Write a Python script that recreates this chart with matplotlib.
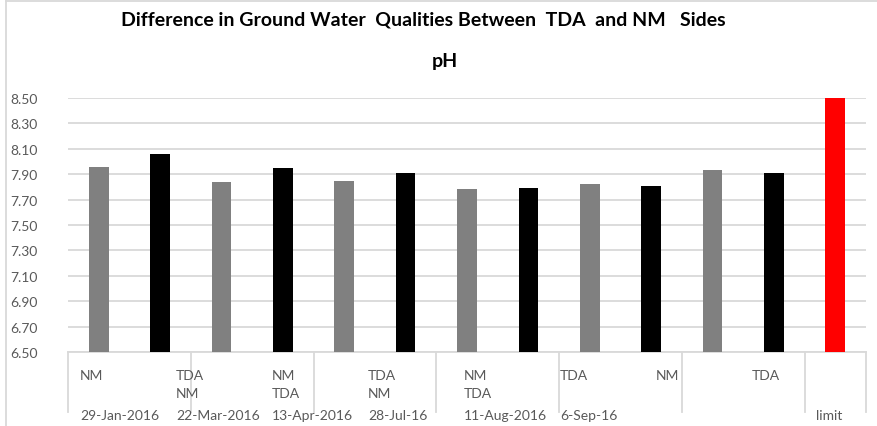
import numpy as np
import matplotlib.pyplot as plt
import matplotlib.transforms as mtransforms
from matplotlib.lines import Line2D

plt.rcParams['font.family'] = ['Lato', 'DejaVu Sans']

# bar values (pH), one per sampling side
ar_ph = [7.96, 8.06, 7.84, 7.95, 7.85, 7.91, 7.78, 7.79, 7.82, 7.81, 7.93, 7.91, 8.50]
ar_colors = ['#808080', '#000000'] * 6 + ['#ff0000']

# messy excel category labels, three rows
ls_row1 = ['NM', 'TDA', 'NM', 'TDA', 'NM', 'TDA', 'NM', 'TDA']
ls_row2 = ['', 'NM', 'TDA', 'NM', 'TDA', '', '', '']
ls_row3 = ['29-Jan-2016', '22-Mar-2016', '13-Apr-2016', '28-Jul-16',
           '11-Aug-2016', '6-Sep-16', '', '']
st_limit = 'limit'

ar_yticks = np.arange(6.5, 8.51, 0.2)

fig = plt.figure(figsize=(8.77, 4.27), dpi=100)
ax = fig.add_axes([68 / 877, 1 - 353 / 427, 798 / 877, 254 / 427])

it_n = len(ar_ph)
ar_x = np.arange(it_n)
ax.bar(ar_x, np.array(ar_ph) - 6.5, bottom=6.5, width=0.32, color=ar_colors, zorder=3)

ax.set_xlim(-0.5, it_n - 0.5)
ax.set_ylim(6.5, 8.5)
ax.set_yticks(ar_yticks)
ax.set_yticklabels(['%.2f' % v for v in ar_yticks])
ax.tick_params(axis='y', length=0, pad=22, labelsize=10, labelcolor='#595959')
ax.set_xticks([])
ax.grid(axis='y', color='#d9d9d9', linewidth=1.3, zorder=0)
for sp in ['top', 'right', 'left']:
    ax.spines[sp].set_visible(False)
ax.spines['bottom'].set_color('#d9d9d9')
ax.spines['bottom'].set_linewidth(1.3)

# group separators below the axis
trans = mtransforms.blended_transform_factory(ax.transData, ax.transAxes)
for fl_sep in list(np.arange(-0.5, it_n - 1, 2)) + [it_n - 0.5]:
    ax.add_line(Line2D([fl_sep, fl_sep], [0, -0.235], transform=trans,
                       color='#d9d9d9', linewidth=1.3, clip_on=False))

# label text boxes, evenly spaced like excel did it
fl_step = 96 / 798
for i in range(len(ls_row1)):
    fl_xa = (80 - 68) / 798 + i * fl_step
    for st_lab, fl_y in [(ls_row1[i], -0.09), (ls_row2[i], -0.16), (ls_row3[i], -0.25)]:
        if st_lab:
            ax.text(fl_xa, fl_y, st_lab, transform=ax.transAxes, fontsize=10,
                    color='#595959', ha='left', va='center')
ax.text(it_n - 1 - 0.1, -0.25, st_limit, transform=trans, fontsize=10,
        color='#595959', ha='center', va='center')

fig.text(423 / 877, 1 - 20 / 427, 'Difference in Ground Water  Qualities Between  TDA  and NM   Sides',
         ha='center', va='center', fontsize=14, fontweight='bold')
fig.text(445 / 877, 1 - 62 / 427, 'pH', ha='center', va='center', fontsize=14, fontweight='bold')

# chart frame
fig.add_artist(Line2D([6 / 877, 1], [1 - 2 / 427] * 2, transform=fig.transFigure,
                      color='#d9d9d9', linewidth=1.3))
fig.add_artist(Line2D([6 / 877] * 2, [0, 1 - 2 / 427], transform=fig.transFigure,
                      color='#d9d9d9', linewidth=1.3))

fig.savefig('out.png', dpi=100)
